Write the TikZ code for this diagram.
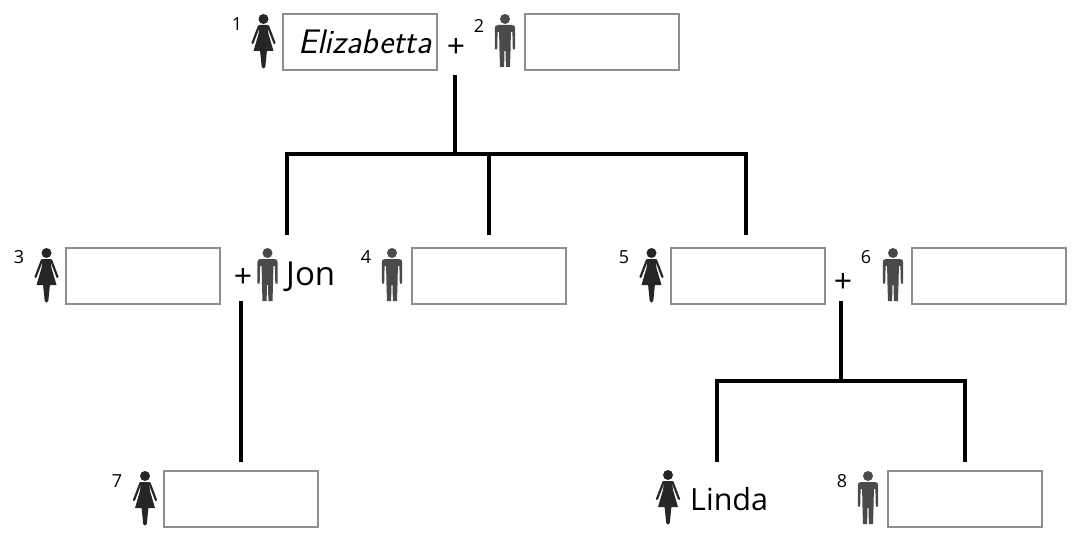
\documentclass[tikz,border=0pt]{standalone}
\usepackage{fontspec}
\setmainfont{Open Sans}
\definecolor{boxgray}{HTML}{8E8E8E}
\definecolor{womancol}{HTML}{262626}
\definecolor{mancol}{HTML}{4A4A4C}
\tikzset{
  namebox/.style={draw=boxgray,line width=2pt,fill=white,minimum width=154pt,minimum height=56pt,inner sep=0pt,outer sep=0pt},
  numlabel/.style={font=\fontsize{18}{20}\selectfont,inner sep=0pt,text=black},
  pluslabel/.style={font=\fontsize{32}{34}\selectfont,inner sep=0pt,text=black},
  jonlabel/.style={font=\fontsize{33}{36}\selectfont,inner sep=0pt,anchor=west,text=black},
  lindalabel/.style={font=\fontsize{30.5}{36}\selectfont,inner sep=0pt,anchor=west,text=black},
  woman/.pic={
    \fill[womancol] (0,5) circle (5);
    % dress and legs
    \fill[womancol] (-4,11) -- (4,11) -- (5,20) -- (10,37) -- (3.4,37) -- (1.8,53) -- (0,54.5) -- (-1.8,53) -- (-3.4,37) -- (-10,37) -- (-5,20) -- cycle;
    % arms
    \draw[womancol,line width=2.2pt,line cap=round] (4.5,12) -- (11,29);
    \draw[womancol,line width=2.2pt,line cap=round] (-4.5,12) -- (-11,29);
  },
  man/.pic={
    \fill[mancol] (0,5) circle (5);
    % torso and legs
    \fill[mancol] (-6,11) -- (6,11) -- (5.6,34) -- (5,53) -- (0.9,53) -- (0.5,37) -- (-0.5,37) -- (-0.9,53) -- (-5,53) -- (-5.6,34) -- cycle;
    % shoulders and arms
    \fill[mancol] (5,11) -- (7,11) .. controls (9.5,11) and (10.2,12) .. (10.2,15) -- (10,35.5) -- (7.8,35.5) -- (7.4,18) -- (5,18) -- cycle;
    \fill[mancol] (-5,11) -- (-7,11) .. controls (-9.5,11) and (-10.2,12) .. (-10.2,15) -- (-10,35.5) -- (-7.8,35.5) -- (-7.4,18) -- (-5,18) -- cycle;
  }
}
\tikzset{treeline/.style={draw=black,line width=3.4pt}}
\begin{document}
\begin{tikzpicture}[x=1pt,y=-1pt]
\useasboundingbox (0,0) rectangle (1080,543);
% boxes
\node[namebox] (b1) at (360,42) {\hspace{10pt}\sffamily\itshape\fontsize{34}{36}\selectfont Elizabetta};
\node[namebox] (b2) at (602,42) {};
\node[namebox] (b3) at (143,276) {};
\node[namebox] (b4) at (489,276) {};
\node[namebox] (b5) at (748,276) {};
\node[namebox] (b6) at (989,276) {};
\node[namebox] (b7) at (241,499) {};
\node[namebox] (b8) at (965,499) {};
% figures
\pic at (263.5,14) {woman};
\pic at (505,14) {man};
\pic at (46.5,248) {woman};
\pic at (267.5,248) {man};
\pic at (392,248) {man};
\pic at (651.5,248) {woman};
\pic at (893,248) {man};
\pic at (145,471) {woman};
\pic at (668,470) {woman};
\pic at (868,471) {man};
% numbers
\node[numlabel] (n1) at (237,24) {1};
\node[numlabel] (n2) at (479,26) {2};
\node[numlabel] (n3) at (19,257) {3};
\node[numlabel] (n4) at (366,257) {4};
\node[numlabel] (n5) at (624,257) {5};
\node[numlabel] (n6) at (866,257) {6};
\node[numlabel] (n7) at (117,481) {7};
\node[numlabel] (n8) at (842,481) {8};
% plus signs
\node[pluslabel] (p1) at (456,48) {+};
\node[pluslabel] (p2) at (243,278) {+};
\node[pluslabel] (p3) at (843,283) {+};
% names
\node[jonlabel] (jon) at (286,277) {Jon};
\node[lindalabel] (linda) at (690,499) {Linda};
% tree
\coordinate (t1) at (455,75);
\coordinate (j1) at (455,154);
\coordinate (la) at (287,154);
\coordinate (lb) at (489,154);
\coordinate (lc) at (746,154);
\coordinate (ea) at (287,235);
\coordinate (eb) at (489,235);
\coordinate (ec) at (746,235);
\coordinate (t2) at (241,301);
\coordinate (e2) at (241,462);
\coordinate (t3) at (841,301);
\coordinate (j3) at (841,381);
\coordinate (ld) at (717,381);
\coordinate (le) at (965,381);
\coordinate (ed) at (717,462);
\coordinate (ee) at (965,462);
\draw[treeline] (t1) -- (j1);
\draw[treeline,line join=miter] (ea) -- (la) -- (lc) -- (ec);
\draw[treeline] (lb) -- (eb);
\draw[treeline] (t2) -- (e2);
\draw[treeline] (t3) -- (j3);
\draw[treeline,line join=miter] (ed) -- (ld) -- (le) -- (ee);
\end{tikzpicture}
\end{document}
